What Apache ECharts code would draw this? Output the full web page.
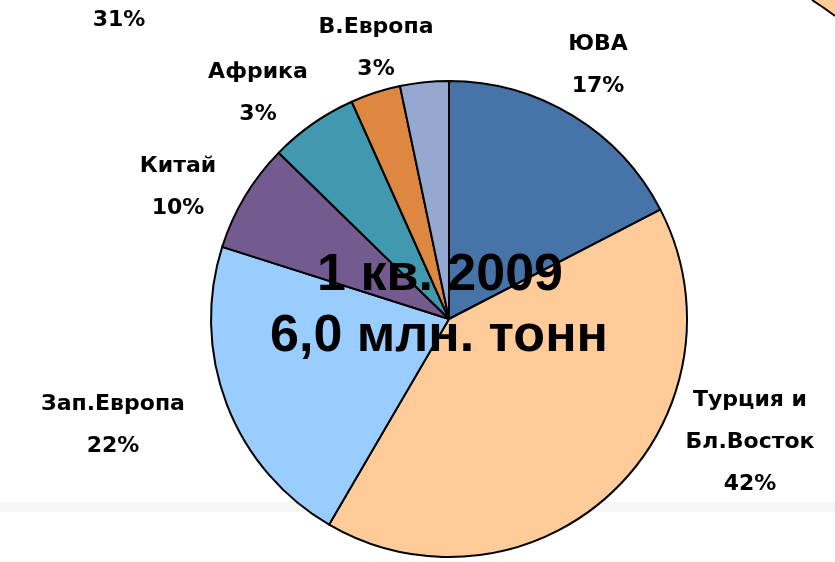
<!DOCTYPE html>
<html>
<head>
<meta charset="utf-8">
<style>
  html, body { margin: 0; padding: 0; background: #fff; }
  #chart { width: 835px; height: 562px; }
</style>
</head>
<body>
<div id="chart"></div>
<script src="https://cdn.jsdelivr.net/npm/echarts@6/dist/echarts.min.js"></script>
<script>
// regions, clockwise from 12 o'clock
var regions = ['ЮВА', 'Турция и\nБл.Восток', 'Зап.Европа', 'Китай', 'Африка', 'В.Европа', 'Прочие'];
// slice sizes as drawn in the picture
var shares = [17.4, 41.0, 21.5, 7.4, 6.0, 3.4, 3.3];
// percent text printed next to each slice
var shareLabels = ['17%', '42%', '22%', '10%', '3%', '3%', ''];
var colors = ['#4673a8', '#ffcc99', '#99ccff', '#735a8f', '#4099ae', '#de8741', '#95a9d0'];

// where each label block sits (centre of the text block)
var labelPos = [[598, 65], [750, 442], [113, 425], [178, 187], [258, 93], [376, 48], [0, 0]];

var chart = echarts.init(document.getElementById('chart'));

var pieData = regions.map(function (name, i) {
    return {
        name: name,
        value: shares[i],
        itemStyle: { color: colors[i] },
        label: { show: shareLabels[i] !== '', formatter: name + '\n' + shareLabels[i] }
    };
});

option = {
    backgroundColor: '#fff',
    animation: false,
    graphic: [
        { type: 'rect', z: -10, shape: { x: 0, y: 502, width: 835, height: 10 }, style: { fill: '#f6f6f6' } },
        // edge of the neighbouring pie, cut by the frame
        { type: 'polygon', z: 1, shape: { points: [[812, 0], [835, 0], [835, 16], [824, 8]] },
          style: { fill: '#ffcc99', stroke: 'none' } },
        { type: 'polyline', z: 2, shape: { points: [[812, 0], [824, 8], [835, 16]] },
          style: { stroke: '#000', lineWidth: 2, fill: 'none' } },
        { type: 'text', z: 5, x: 119, y: 20,
          style: { text: '31%', font: 'bold 22px "DejaVu Sans"', fill: '#000', align: 'center', verticalAlign: 'middle' } },
        { type: 'text', z: 50, x: 440, y: 276,
          style: { text: '1 кв. 2009', font: 'bold 52px "Liberation Sans"', fill: '#000', align: 'center', verticalAlign: 'middle',
                   shadowColor: 'rgba(0,0,0,0.45)', shadowBlur: 5, shadowOffsetX: 2, shadowOffsetY: 2 } },
        { type: 'text', z: 50, x: 439, y: 337,
          style: { text: '6,0 млн. тонн', font: 'bold 52px "Liberation Sans"', fill: '#000', align: 'center', verticalAlign: 'middle',
                   shadowColor: 'rgba(0,0,0,0.45)', shadowBlur: 5, shadowOffsetX: 2, shadowOffsetY: 2 } }
    ],
    series: [{
        type: 'pie',
        center: [449, 319],
        radius: 238,
        startAngle: 90,
        clockwise: true,
        avoidLabelOverlap: false,
        itemStyle: { borderColor: '#000', borderWidth: 2 },
        label: {
            position: 'outside',
            color: '#000',
            fontFamily: 'DejaVu Sans',
            fontWeight: 'bold',
            fontSize: 22,
            lineHeight: 42,
            align: 'center'
        },
        labelLine: { show: false },
        labelLayout: function (params) {
            var p = labelPos[params.dataIndex];
            return { x: p[0], y: p[1], align: 'center', verticalAlign: 'middle' };
        },
        emphasis: { disabled: true },
        data: pieData
    }]
};

chart.setOption(option);
window.addEventListener('resize', function () {
    chart.resize();
});
</script>
</body>
</html>
